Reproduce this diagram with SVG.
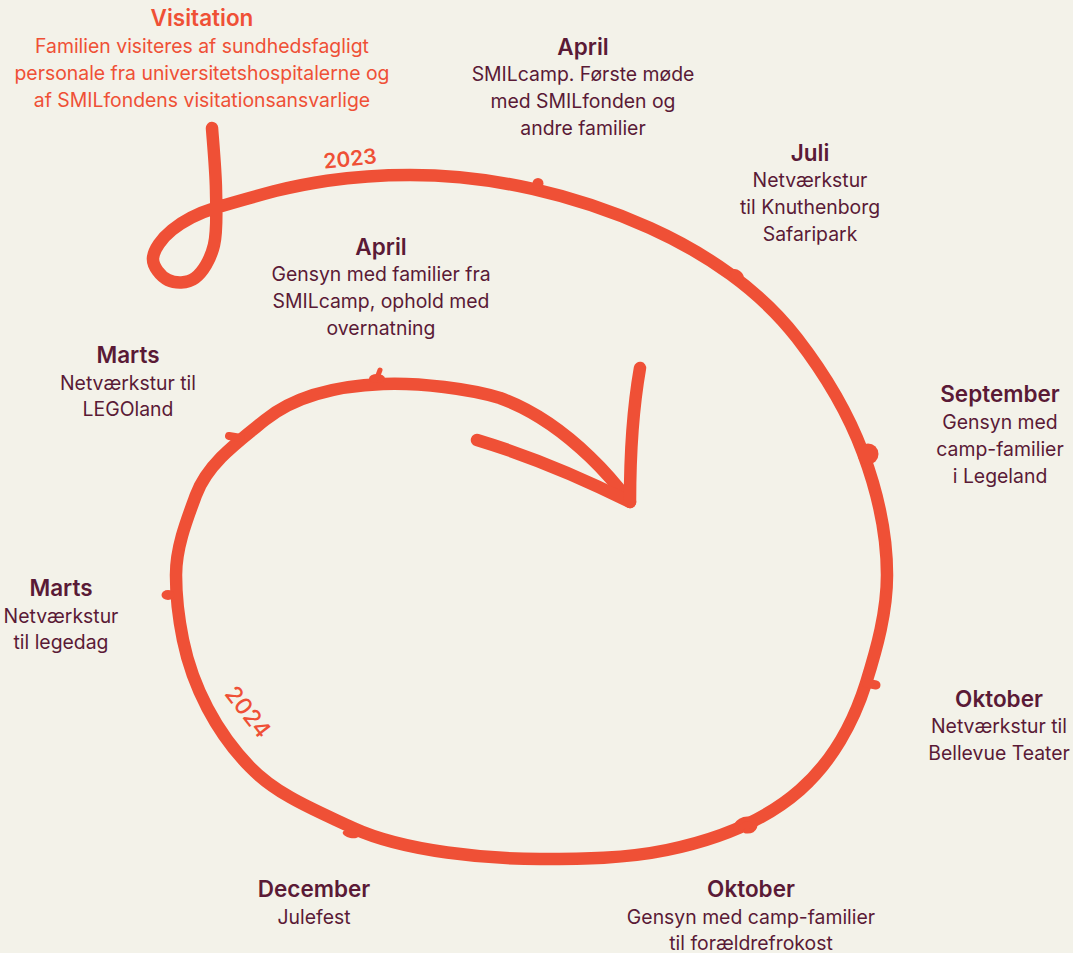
<svg xmlns="http://www.w3.org/2000/svg" width="1073" height="953" viewBox="0 0 1073 953">
<style>
.t{font-family:Inter,"Liberation Sans",sans-serif;text-anchor:middle;fill:#5A1A36}
.h{font-size:22.5px;font-weight:600}
.b{font-size:19.4px;font-weight:400}
.o{fill:#EF5036}
.ln{fill:none;stroke:#EF5036;stroke-width:12.5;stroke-linecap:round;stroke-linejoin:round}
.tk{fill:#EF5036}
.tks{fill:none;stroke:#EF5036;stroke-linecap:round}
</style>
<rect width="1073" height="953" fill="#F3F2E9"/>
<g id="connectors">
<path class="ln" d="M212,128 C212.7,138.3 215.7,170.5 216,190 C216.3,209.5 217.5,230.3 214,245 C210.5,259.7 202.7,272.2 195,278 C187.3,283.8 175,283.3 168,280 C161,276.7 152.3,266.3 153,258 C153.7,249.7 161.7,238.3 172,230 C182.3,221.7 194,214.5 215,208 C236,201.5 275,191 275,191 C300,185 344,175 410,175 C492,175 575.2,194.4 650,228 C705.6,253 759.8,289.8 797,338 C824,372.9 847.5,411.5 863,453 C877.5,491.9 887,533.6 887,575 C887,611.7 877,648 866,683 C853.4,723 831.4,762.3 800,790 C763.5,822.1 714.6,840.2 667,850 C625.5,858.6 582.4,859 540,859 C490,859 405,852 353,828 C317,810.8 278,795.8 250,767 C216.6,732.7 192.6,686.9 183,640 C178.6,618.6 176,596.8 176,575 C176,547.5 186.4,520.8 196,495 C207.9,463.1 238.5,441.4 265,420 C296.9,394.3 342,385.6 383,384 C420,382.5 470,389 500,398 C533.7,410.2 564.2,432.2 590,457 C603.7,470.1 616.6,484.8 628,500"/>
<path class="ln" d="M477,440 Q550,462 630,502"/>
<path class="ln" d="M640,368 Q630,425 630,502"/>
</g>
<g id="visitation">
<text class="t h o" x="202" y="26">Visitation</text>
<text class="t b o" x="202" y="53">Familien visiteres af sundhedsfagligt</text>
<text class="t b o" x="202" y="80">personale fra universitetshospitalerne og</text>
<text class="t b o" x="202" y="107">af SMILfondens visitationsansvarlige</text>
</g>
<g id="year-2023">
<text class="t o" x="350" y="166" font-size="21" font-weight="600" transform="rotate(-6 350 159)">2023</text>
</g>
<g id="april-camp">
<circle class="tk" cx="538" cy="183.5" r="5.5"/>
<text class="t h" x="583" y="55">April</text>
<text class="t b" x="583" y="81">SMILcamp. Første møde</text>
<text class="t b" x="583" y="108">med SMILfonden og</text>
<text class="t b" x="583" y="135">andre familier</text>
</g>
<g id="juli">
<ellipse class="tk" cx="737" cy="275" rx="7.5" ry="5" transform="rotate(35 737 275)"/>
<text class="t h" x="810" y="161">Juli</text>
<text class="t b" x="810" y="187">Netværkstur</text>
<text class="t b" x="810" y="214">til Knuthenborg</text>
<text class="t b" x="810" y="241">Safaripark</text>
</g>
<g id="september">
<circle class="tk" cx="868" cy="454" r="10.5"/>
<text class="t h" x="1000" y="402">September</text>
<text class="t b" x="1000" y="429">Gensyn med</text>
<text class="t b" x="1000" y="456">camp-familier</text>
<text class="t b" x="1000" y="483">i Legeland</text>
</g>
<g id="oktober-teater">
<path class="tks" stroke-width="9" d="M866,683 L876,685"/>
<text class="t h" x="999" y="707">Oktober</text>
<text class="t b" x="999" y="733">Netværkstur til</text>
<text class="t b" x="999" y="760">Bellevue Teater</text>
</g>
<g id="oktober-frokost">
<path class="tks" stroke-width="5" d="M736,831 C734,822 745,817 752,820 C758,823 755,832 746,831"/>
<text class="t h" x="751" y="897">Oktober</text>
<text class="t b" x="751" y="924">Gensyn med camp-familier</text>
<text class="t b" x="751" y="950">til forældrefrokost</text>
</g>
<g id="december">
<ellipse class="tk" cx="351" cy="834" rx="8.5" ry="4" transform="rotate(12 351 834)"/>
<text class="t h" x="314" y="897">December</text>
<text class="t b" x="314" y="924">Julefest</text>
</g>
<g id="year-2024">
<text class="t o" x="248" y="720" font-size="23" font-weight="500" transform="rotate(52 248 712)">2024</text>
</g>
<g id="marts-legedag">
<ellipse class="tk" cx="168" cy="595" rx="6.5" ry="5"/>
<text class="t h" x="61" y="596">Marts</text>
<text class="t b" x="61" y="623">Netværkstur</text>
<text class="t b" x="61" y="649">til legedag</text>
</g>
<g id="marts-legoland">
<path class="tks" stroke-width="8" d="M229,436 L241,438"/>
<text class="t h" x="128" y="363">Marts</text>
<text class="t b" x="128" y="390">Netværkstur til</text>
<text class="t b" x="128" y="416">LEGOland</text>
</g>
<g id="april-gensyn">
<ellipse class="tk" cx="377" cy="378.5" rx="8" ry="4.5"/>
<path class="tks" stroke-width="5" d="M377,378 L380,370"/>
<text class="t h" x="381" y="255">April</text>
<text class="t b" x="381" y="281">Gensyn med familier fra</text>
<text class="t b" x="381" y="308">SMILcamp, ophold med</text>
<text class="t b" x="381" y="335">overnatning</text>
</g>
</svg>
